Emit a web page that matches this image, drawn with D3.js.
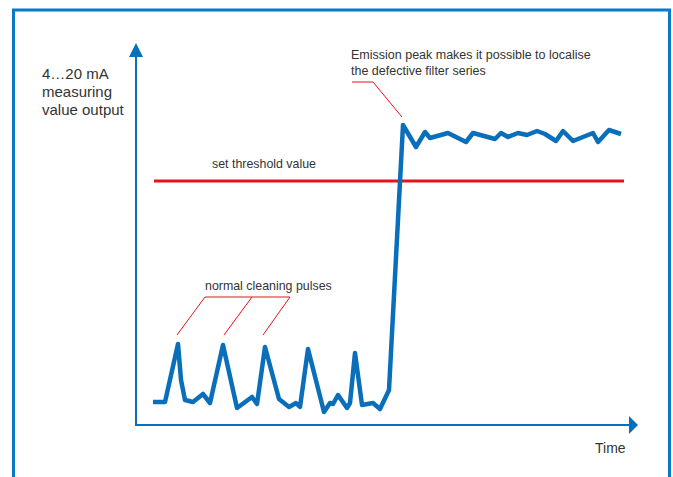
<!DOCTYPE html>
<html>
<head>
<meta charset="utf-8">
<script src="https://cdn.jsdelivr.net/npm/d3@7"></script>
<style>
  html, body { margin: 0; padding: 0; background: #fff; }
  svg { display: block; }
  text { font-family: "Liberation Sans", Arial, sans-serif; fill: #333; }
</style>
</head>
<body>
<svg id="chart" width="673" height="477"></svg>
<script>
// ---- data (time units, signal units) ----
const timeValues = [17, 29, 42, 45, 49, 57, 67, 74, 87, 101, 116, 121, 129, 143, 153, 160, 164, 172, 188, 194, 197, 202, 211, 214, 219, 226, 237, 244, 253, 267, 280, 289, 294, 312, 330, 337, 359, 365, 372, 382, 391, 401, 409, 420, 427, 437, 457, 462, 473, 485];
const signalValues = [23, 23, 81, 45, 25, 23, 31, 22, 80, 17, 28, 21, 78, 26, 18, 22, 18, 76, 13, 22, 21, 30, 17, 22, 72, 20, 22, 16, 35, 300, 278, 293, 287, 292, 283, 292, 286, 292, 288, 292, 290, 294, 291, 284, 294, 284, 292, 283, 295, 291];
const thresholdValue = 244;
const thresholdSpan = [18, 488];
const cleaningPulseTimes = [41, 88, 127];
const emissionPeakTime = 267;
const yAxisLabel = ["4\u202620 mA", "measuring", "value output"];
const xAxisLabel = "Time";
const thresholdLabel = "set threshold value";
const pulsesLabel = "normal cleaning pulses";
const peakLabel = ["Emission peak makes it possible to localise", "the defective filter series"];

const svg = d3.select("#chart");
const blue = "#0a6fba";
const frameBlue = "#0b79c6";
const red = "#e3141b";

const x = d3.scaleLinear().domain([0, 500]).range([136, 636]);
const y = d3.scaleLinear().domain([0, 380]).range([425, 45]);

// frame
svg.append("path")
  .attr("d", d3.line()([[13.5, 490], [13.5, 10], [669.5, 10], [669.5, 490]]))
  .attr("fill", "none").attr("stroke", frameBlue).attr("stroke-width", 3);

// axes
const x0 = x(0), y0 = y(0);
svg.append("line").attr("x1", x0).attr("y1", y0).attr("x2", x0).attr("y2", 52)
  .attr("stroke", blue).attr("stroke-width", 2);
svg.append("path").attr("d", d3.line()([[x0 - 7, 57], [x0, 43], [x0 + 7, 57]]) + "Z").attr("fill", blue);
svg.append("line").attr("x1", x0 - 1).attr("y1", y0).attr("x2", 632).attr("y2", y0)
  .attr("stroke", blue).attr("stroke-width", 2);
svg.append("path").attr("d", d3.line()([[629, y0 - 9], [638, y0], [629, y0 + 9]]) + "Z").attr("fill", blue);

// axis labels
const yl = svg.append("text").attr("x", 42).attr("y", 79).attr("font-size", 15);
yAxisLabel.forEach((s, i) => yl.append("tspan").attr("x", 42).attr("dy", i ? 18 : 0).text(s));
svg.append("text").attr("x", 595).attr("y", 453).attr("font-size", 14).text(xAxisLabel);

// threshold
svg.append("line")
  .attr("x1", x(thresholdSpan[0])).attr("x2", x(thresholdSpan[1]))
  .attr("y1", y(thresholdValue)).attr("y2", y(thresholdValue))
  .attr("stroke", red).attr("stroke-width", 3);
svg.append("text").attr("x", 264).attr("y", 168).attr("font-size", 12.4)
  .attr("text-anchor", "middle").text(thresholdLabel);

// signal
const pts = timeValues.map((t, i) => [x(t), y(signalValues[i])]);
svg.append("path").attr("d", d3.line()(pts))
  .attr("fill", "none").attr("stroke", blue).attr("stroke-width", 4.5)
  .attr("stroke-linejoin", "round");

// cleaning pulses annotation
svg.append("text").attr("x", 205).attr("y", 290).attr("font-size", 12.4).text(pulsesLabel);
const barY = 297;
const tops = [205, 252, 290];
svg.append("line").attr("x1", tops[0]).attr("x2", tops[2]).attr("y1", barY).attr("y2", barY)
  .attr("stroke", red).attr("stroke-width", 1);
cleaningPulseTimes.forEach((t, i) => {
  svg.append("line").attr("x1", tops[i]).attr("y1", barY).attr("x2", x(t)).attr("y2", 335)
    .attr("stroke", red).attr("stroke-width", 1);
});

// emission peak annotation
const pl = svg.append("text").attr("x", 351).attr("y", 59).attr("font-size", 12.5);
peakLabel.forEach((s, i) => pl.append("tspan").attr("x", 351).attr("dy", i ? 16 : 0).text(s));
svg.append("path")
  .attr("d", d3.line()([[352, 82], [373, 82], [x(emissionPeakTime - 1), 117]]))
  .attr("fill", "none").attr("stroke", red).attr("stroke-width", 1);
</script>
</body>
</html>
